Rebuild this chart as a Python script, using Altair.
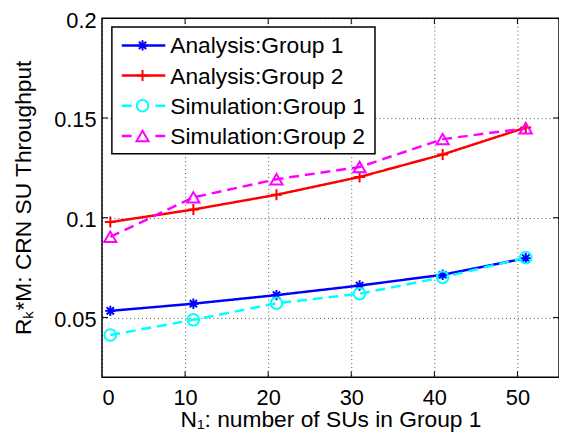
import altair as alt
import pandas as pd

# ---- data ----
n1 = [1, 11, 21, 31, 41, 51]
analysis_g1 = [0.0533, 0.0569, 0.0612, 0.0660, 0.0714, 0.0797]
analysis_g2 = [0.0978, 0.1041, 0.1115, 0.1204, 0.1317, 0.1452]
simulation_g1 = [0.0412, 0.0488, 0.0571, 0.0619, 0.0701, 0.0800]
simulation_g2 = [0.0904, 0.1102, 0.1193, 0.1254, 0.1394, 0.1448]

series_names = ["Analysis:Group 1", "Analysis:Group 2",
                "Simulation:Group 1", "Simulation:Group 2"]
series_values = [analysis_g1, analysis_g2, simulation_g1, simulation_g2]
series_colors = ["#0000ff", "#ff0000", "#00ffff", "#ff00ff"]
series_dash = [[1, 0], [1, 0], [10, 6], [10, 6]]
legend_dash = [[1, 0], [1, 0], [10, 24], [10, 24]]
asterisk = "M-1,0L1,0M0,-1L0,1M-0.7,-0.7L0.7,0.7M-0.7,0.7L0.7,-0.7"
plus = "M-1,0L1,0M0,-1L0,1"
series_shapes = [asterisk, plus, "circle", "triangle-up"]
series_sizes = [110, 150, 160, 200]

x_ticks = [0, 10, 20, 30, 40, 50]
y_ticks = [0.05, 0.1, 0.15, 0.2]

W, H = 462, 363
FONT = "Liberation Sans"

rows = []
for name, vals in zip(series_names, series_values):
    for x, v in zip(n1, vals):
        rows.append({"n1": x, "value": v, "series": name})
df = pd.DataFrame(rows)

color = alt.Color("series:N", scale=alt.Scale(domain=series_names, range=series_colors), legend=None)
dash = alt.StrokeDash("series:N", scale=alt.Scale(domain=series_names, range=series_dash), legend=None)
shape = alt.Shape("series:N", scale=alt.Scale(domain=series_names, range=series_shapes), legend=None)
size = alt.Size("series:N", scale=alt.Scale(domain=series_names, range=series_sizes), legend=None)

xscale = alt.Scale(domain=[0, 55], nice=False, zero=False)
yscale = alt.Scale(domain=[0.02, 0.2], nice=False, zero=False)

xaxis = alt.Axis(values=x_ticks, title="N\u2081: number of SUs in Group 1", grid=True,
                 gridDash=[1, 3], gridColor="#000000", gridOpacity=0.7, gridWidth=1,
                 domain=False, ticks=False, labelFontSize=22, labelFont=FONT,
                 labelColor="black", labelPadding=10, titleFontSize=23, titleFont=FONT,
                 titleFontWeight="normal", titleColor="black",
                 titleBaseline="alphabetic", titleY=50, titleX=W / 2, titleAlign="center")
yaxis = alt.Axis(values=y_ticks, title="R\u2096*M: CRN SU Throughput", grid=True,
                 gridDash=[1, 3], gridColor="#000000", gridOpacity=0.7, gridWidth=1,
                 domain=False, ticks=False, labelFontSize=22, labelFont=FONT,
                 labelColor="black", labelPadding=6, labelOffset=2,
                 labelExpr="format(datum.value, '.2~f')",
                 titleFontSize=23, titleFont=FONT, titleFontWeight="normal",
                 titleColor="black", titleAngle=270, titleBaseline="alphabetic",
                 titleAlign="center", titleX=-72, titleY=181)

base = alt.Chart(df)
lines = base.mark_line(strokeWidth=2.5).encode(
    x=alt.X("n1:Q", scale=xscale, axis=xaxis),
    y=alt.Y("value:Q", scale=yscale, axis=yaxis),
    color=color, strokeDash=dash, detail="series:N",
)
points = base.mark_point(filled=False, strokeWidth=2, opacity=1).encode(
    x=alt.X("n1:Q", scale=xscale), y=alt.Y("value:Q", scale=yscale),
    color=color, shape=shape, size=size,
)

# inward tick marks on all four sides
xt = pd.DataFrame({"t": x_ticks[1:]})
yt = pd.DataFrame({"t": y_ticks[:-1]})
tick_bottom = alt.Chart(xt).mark_rule(color="black", strokeWidth=1).encode(
    x=alt.X("t:Q", scale=xscale), y=alt.value(H), y2=alt.value(H - 6))
tick_top = alt.Chart(xt).mark_rule(color="black", strokeWidth=1).encode(
    x=alt.X("t:Q", scale=xscale), y=alt.value(0), y2=alt.value(6))
tick_left = alt.Chart(yt).mark_rule(color="black", strokeWidth=1).encode(
    y=alt.Y("t:Q", scale=yscale), x=alt.value(0), x2=alt.value(6))
tick_right = alt.Chart(yt).mark_rule(color="black", strokeWidth=1).encode(
    y=alt.Y("t:Q", scale=yscale), x=alt.value(W), x2=alt.value(W - 6))

# legend box
LX0, LX1, LY0, LY1 = 10, 276, 9, 137
leg = pd.DataFrame({"series": series_names,
                    "ly": [27.5 + 30.5 * i for i in range(len(series_names))]})
leg["ty"] = leg["ly"] + 8
box = alt.Chart(pd.DataFrame({"a": [0]})).mark_rect(
    fill="white", stroke="black", strokeWidth=1.5).encode(
    x=alt.value(LX0), x2=alt.value(LX1), y=alt.value(LY0), y2=alt.value(LY1))
leg_line = alt.Chart(leg).mark_rule(strokeWidth=2.5).encode(
    x=alt.value(20), x2=alt.value(64), y=alt.Y("ly:Q", scale=None),
    color=color,
    strokeDash=alt.StrokeDash("series:N", scale=alt.Scale(domain=series_names, range=legend_dash), legend=None))
leg_pt = alt.Chart(leg).mark_point(filled=False, strokeWidth=2, opacity=1).encode(
    x=alt.value(41), y=alt.Y("ly:Q", scale=None), color=color, shape=shape, size=size)
leg_txt = alt.Chart(leg).mark_text(align="left", baseline="alphabetic", fontSize=23,
                                   font=FONT, color="black").encode(
    x=alt.value(69), y=alt.Y("ty:Q", scale=None), text="series:N")

chart = alt.layer(
    lines, points, tick_bottom, tick_top, tick_left, tick_right,
    box, leg_line, leg_pt, leg_txt,
).resolve_scale(strokeDash="independent").properties(
    width=W, height=H,
    autosize=alt.AutoSizeParams(type="none"),
    padding={"left": 95, "top": 8, "right": 0, "bottom": 56},
    background="white",
).configure_view(stroke="black", strokeWidth=1.5)

chart.save("out.html", embed_options={"renderer": "svg", "actions": False})
